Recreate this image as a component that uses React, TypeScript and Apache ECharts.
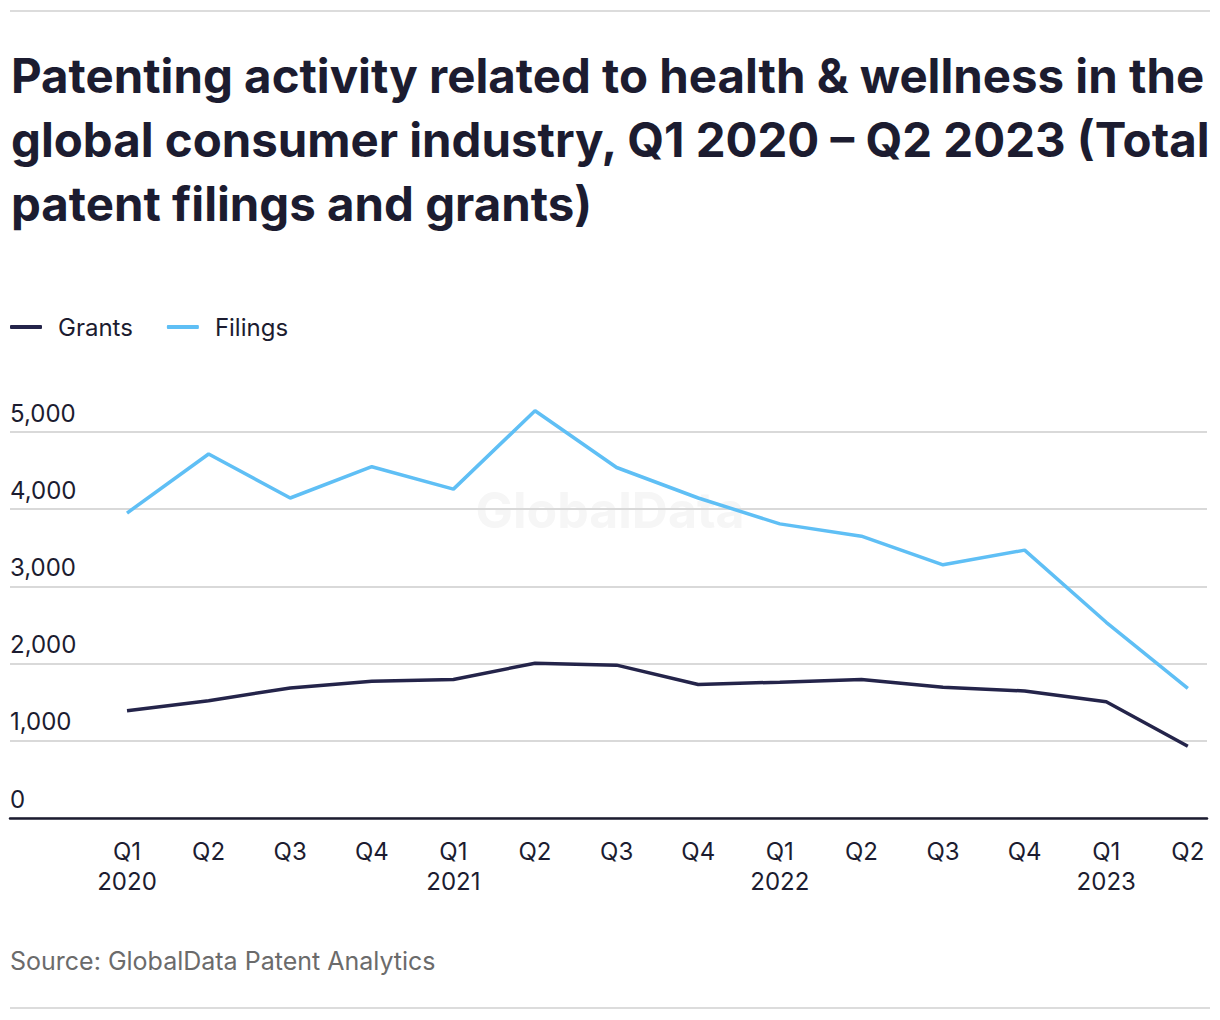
import React, { useEffect, useRef } from "react";
import * as echarts from "echarts";

const quarterLabels = [
  "Q1\n2020", "Q2", "Q3", "Q4",
  "Q1\n2021", "Q2", "Q3", "Q4",
  "Q1\n2022", "Q2", "Q3", "Q4",
  "Q1\n2023", "Q2",
];
const grants = [1390, 1520, 1685, 1770, 1795, 2005, 1980, 1730, 1760, 1795, 1695, 1645, 1505, 930];
const filings = [3950, 4715, 4145, 4550, 4260, 5275, 4540, 4145, 3810, 3650, 3280, 3470, 2535, 1680];
const seriesNames = ["Grants", "Filings"];
const seriesColors = ["#24244a", "#5fbff5"];

const TITLE =
  "Patenting activity related to health & wellness in the\nglobal consumer industry, Q1 2020 \u2013 Q2 2023 (Total\npatent filings and grants)";
const SOURCE = "Source: GlobalData Patent Analytics";
const FONT = "Inter, Roboto, 'Noto Sans', sans-serif";
const INK = "#1c1c30";

export default function App() {
  const ref = useRef<HTMLDivElement>(null);
  useEffect(() => {
    document.body.style.margin = "0";
    const chart = echarts.init(ref.current!, null, { renderer: "svg" });
    const toPoints = (arr: number[]) => arr.map((v, i) => [i, v]);
    chart.setOption({
      animation: false,
      backgroundColor: "#ffffff",
      textStyle: { fontFamily: FONT },
      title: {
        text: TITLE,
        left: 6,
        top: 38,
        textStyle: {
          fontFamily: FONT,
          fontSize: 47.4,
          fontWeight: 700,
          lineHeight: 64,
          color: INK,
        },
      },
      legend: {
        left: 10,
        top: 315,
        padding: 0,
        icon: "roundRect",
        itemWidth: 32,
        itemHeight: 4,
        itemGap: 34,
        data: seriesNames,
        textStyle: {
          fontFamily: FONT,
          fontSize: 24,
          color: INK,
          padding: [0, 0, 0, 11],
        },
      },
      graphic: [
        {
          type: "line",
          shape: { x1: 10, y1: 11, x2: 1210, y2: 11 },
          style: { stroke: "#dcdcdc", lineWidth: 2 },
        },
        {
          type: "line",
          shape: { x1: 10, y1: 1008, x2: 1210, y2: 1008 },
          style: { stroke: "#dcdcdc", lineWidth: 2 },
        },
        {
          type: "text",
          x: 610,
          y: 510,
          z: -1,
          style: {
            text: "GlobalData",
            fontFamily: FONT,
            fontSize: 50,
            fontWeight: 700,
            fill: "#f6f6f6",
            textAlign: "center",
            textVerticalAlign: "middle",
          },
        },
        {
          type: "text",
          x: 10,
          y: 961,
          style: {
            text: SOURCE,
            fontFamily: FONT,
            fontSize: 25,
            fill: "#6b6b6b",
            textVerticalAlign: "middle",
          },
        },
      ],
      grid: { left: 10, right: 13, top: 432, bottom: 202, containLabel: false },
      xAxis: {
        type: "value",
        min: -1.434,
        max: 13.235,
        splitLine: { show: false },
        axisTick: { show: false },
        axisLine: { show: true, lineStyle: { color: INK, width: 2.5 } },
        axisLabel: {
          customValues: quarterLabels.map((_, i) => i),
          formatter: (v: number) => quarterLabels[Math.round(v)] ?? "",
          fontFamily: FONT,
          fontSize: 24,
          lineHeight: 30,
          color: INK,
          margin: 18,
        },
      },
      yAxis: {
        type: "value",
        min: 0,
        max: 5000,
        interval: 1000,
        axisLine: { show: false },
        axisTick: { show: false },
        splitLine: { lineStyle: { color: "#d9d9d9", width: 2 } },
        axisLabel: {
          inside: true,
          margin: 0,
          align: "left",
          verticalAlign: "bottom",
          padding: [0, 0, 7, 0],
          fontFamily: FONT,
          fontSize: 24,
          color: INK,
          formatter: (v: number) => v.toLocaleString("en-US"),
        },
      },
      series: [
        {
          name: seriesNames[0],
          type: "line",
          data: toPoints(grants),
          color: seriesColors[0],
          showSymbol: false,
          clip: false,
          lineStyle: { width: 3.5, color: seriesColors[0] },
        },
        {
          name: seriesNames[1],
          type: "line",
          data: toPoints(filings),
          color: seriesColors[1],
          showSymbol: false,
          clip: false,
          lineStyle: { width: 3.5, color: seriesColors[1] },
        },
      ],
    });
    return () => chart.dispose();
  }, []);
  return <div ref={ref} style={{ width: 1220, height: 1020 }} />;
}
